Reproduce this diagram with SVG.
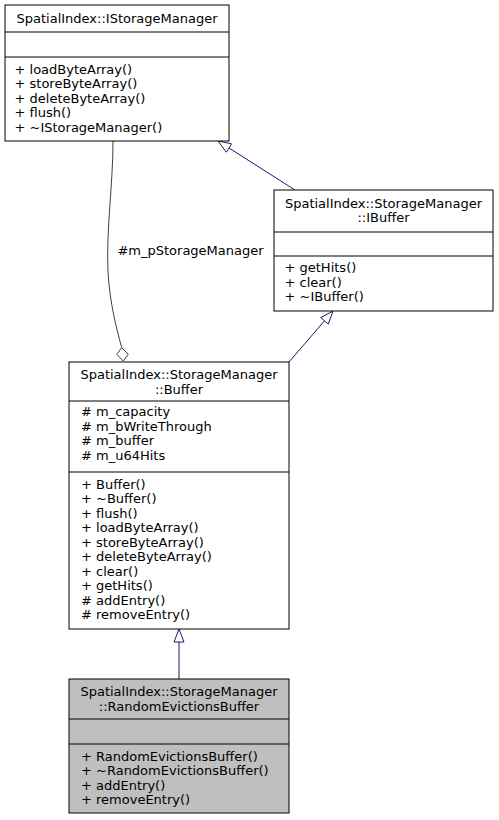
<svg xmlns="http://www.w3.org/2000/svg" width="499" height="820" viewBox="0 0 499 820">
<style>
text{font-family:"DejaVu Sans",sans-serif;font-size:13px;fill:#000}
.t{text-anchor:middle}
.box{fill:#fff;stroke:#000;stroke-width:1}
.sel{fill:#bfbfbf;stroke:#000;stroke-width:1}
.sep{stroke:#000;stroke-width:1}
.gen{fill:none;stroke:#191970;stroke-width:1}
.genh{fill:#fff;stroke:#191970;stroke-width:1}
.agg{fill:none;stroke:#404040;stroke-width:1}
.aggh{fill:#fff;stroke:#404040;stroke-width:1}
</style>
<rect width="499" height="820" fill="#fff"/>
<g id="edges">
<path class="gen" d="M295,190 L229,148"/>
<polygon class="genh" points="218,141 231.6,143.8 226.3,152.2"/>
<path class="gen" d="M289,362 L324.5,320.8"/>
<polygon class="genh" points="333,311 328.3,324.1 320.7,317.6"/>
<path class="gen" d="M179,679 L179,642"/>
<polygon class="genh" points="179,629 174,642 184,642"/>
<path class="agg" d="M113,141 C113,185 106,230 108,272 C110,305 117,330 121.7,347.7"/>
<polygon class="aggh" points="121.7,347.7 116.7,354.3 123.3,361 128.3,354.3"/>
<text class="t" x="190.5" y="255">#m_pStorageManager</text>
</g>
<g id="IStorageManager">
<rect class="box" x="5" y="5" width="224" height="136"/>
<line class="sep" x1="5" y1="32" x2="229" y2="32"/>
<line class="sep" x1="5" y1="57" x2="229" y2="57"/>
<text class="t" x="117" y="22.5">SpatialIndex::IStorageManager</text>
<text x="14.5" y="73.5">+ loadByteArray()</text>
<text x="14.5" y="88">+ storeByteArray()</text>
<text x="14.5" y="102.5">+ deleteByteArray()</text>
<text x="14.5" y="117">+ flush()</text>
<text x="14.5" y="131.5">+ ~IStorageManager()</text>
</g>
<g id="IBuffer">
<rect class="box" x="274" y="190" width="219" height="121"/>
<line class="sep" x1="274" y1="232" x2="493" y2="232"/>
<line class="sep" x1="274" y1="256" x2="493" y2="256"/>
<text class="t" x="383.5" y="207.5">SpatialIndex::StorageManager</text>
<text class="t" x="383.5" y="222">::IBuffer</text>
<text x="284.5" y="272">+ getHits()</text>
<text x="284.5" y="286.5">+ clear()</text>
<text x="284.5" y="301">+ ~IBuffer()</text>
</g>
<g id="Buffer">
<rect class="box" x="69" y="362" width="220" height="267"/>
<line class="sep" x1="69" y1="401" x2="289" y2="401"/>
<line class="sep" x1="69" y1="472" x2="289" y2="472"/>
<text class="t" x="179" y="379">SpatialIndex::StorageManager</text>
<text class="t" x="179" y="393.5">::Buffer</text>
<text x="81" y="416">#  m_capacity</text>
<text x="81" y="430.5">#  m_bWriteThrough</text>
<text x="81" y="445">#  m_buffer</text>
<text x="81" y="459.5">#  m_u64Hits</text>
<text x="81" y="488.5">+ Buffer()</text>
<text x="81" y="503">+ ~Buffer()</text>
<text x="81" y="517.5">+ flush()</text>
<text x="81" y="532">+ loadByteArray()</text>
<text x="81" y="546.5">+ storeByteArray()</text>
<text x="81" y="561">+ deleteByteArray()</text>
<text x="81" y="575.5">+ clear()</text>
<text x="81" y="590">+ getHits()</text>
<text x="81" y="604.5">#  addEntry()</text>
<text x="81" y="619">#  removeEntry()</text>
</g>
<g id="RandomEvictionsBuffer">
<rect class="sel" x="69" y="679" width="220" height="134"/>
<line class="sep" x1="69" y1="719" x2="289" y2="719"/>
<line class="sep" x1="69" y1="744" x2="289" y2="744"/>
<text class="t" x="179" y="696">SpatialIndex::StorageManager</text>
<text class="t" x="179" y="710.5">::RandomEvictionsBuffer</text>
<text x="81" y="760.5">+ RandomEvictionsBuffer()</text>
<text x="81" y="775">+ ~RandomEvictionsBuffer()</text>
<text x="81" y="789.5">+ addEntry()</text>
<text x="81" y="804">+ removeEntry()</text>
</g>
</svg>
